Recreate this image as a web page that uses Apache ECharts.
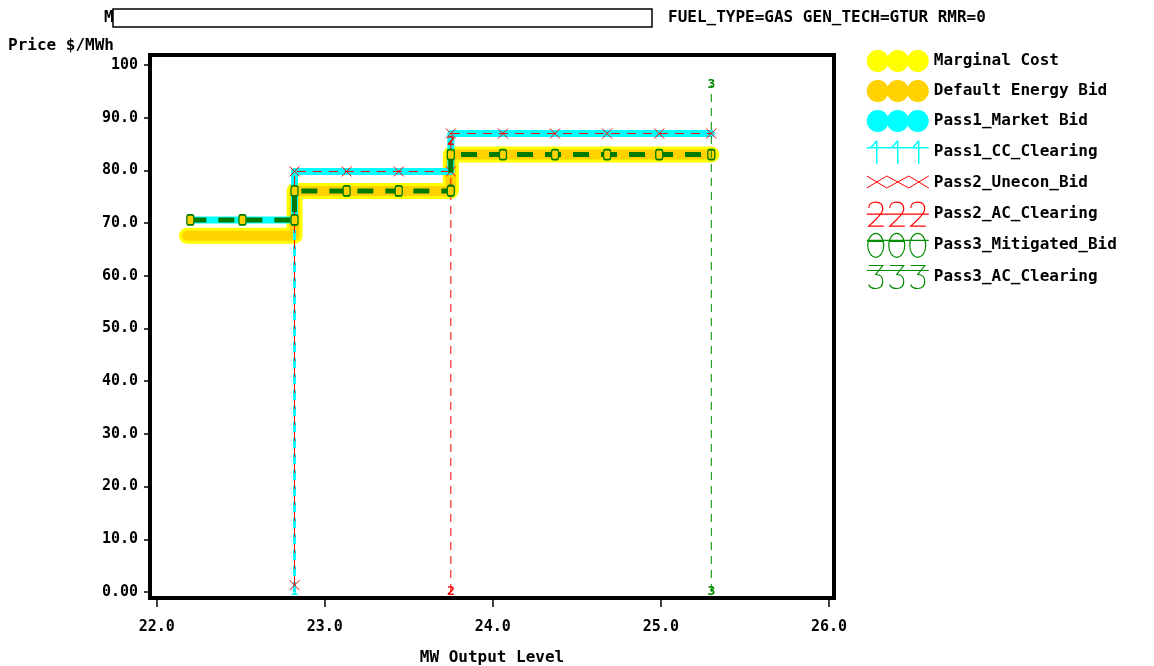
<!DOCTYPE html>
<html>
<head>
<meta charset="utf-8">
<style>
  html, body { margin: 0; padding: 0; background: #fff; }
  #chart { width: 1154px; height: 666px; }
</style>
<script src="https://cdn.jsdelivr.net/npm/echarts@6/dist/echarts.min.js"></script>
</head>
<body>
<div id="chart"></div>
<script>
// ---- data ----
const xTicks = [22, 23, 24, 25, 26]
const xTickLabels = ['22.0', '23.0', '24.0', '25.0', '26.0']
const yTicks = [0, 10, 20, 30, 40, 50, 60, 70, 80, 90, 100]
const yTickLabels = ['0.00', '10.0', '20.0', '30.0', '40.0', '50.0', '60.0', '70.0', '80.0', '90.0', '100']

// step curves (x, price)
const marginalX = [22.18, 22.82, 22.82, 23.75, 23.75, 25.30]
const marginalY = [67.6, 67.6, 76.1, 76.1, 83.0, 83.0]
const defaultX = [22.18, 22.82, 22.82, 23.75, 23.75, 25.30]
const defaultY = [67.6, 67.6, 76.1, 76.1, 83.0, 83.0]
const pass1BidX = [22.20, 22.82, 22.82, 23.75, 23.75, 25.30]
const pass1BidY = [70.6, 70.6, 79.8, 79.8, 87.0, 87.0]
const pass1ClearX = [22.82, 22.82]
const pass1ClearY = [0, 70.6]
const pass2BidX = [22.82, 22.82, 23.13, 23.44, 23.75, 23.75, 24.06, 24.37, 24.68, 24.99, 25.30]
const pass2BidY = [1.3, 79.8, 79.8, 79.8, 79.8, 87.0, 87.0, 87.0, 87.0, 87.0, 87.0]
const pass2ClearX = [23.75, 23.75]
const pass2ClearY = [0, 85.5]
const pass3BidX = [22.20, 22.51, 22.82, 22.82, 23.13, 23.44, 23.75, 23.75, 24.06, 24.37, 24.68, 24.99, 25.30]
const pass3BidY = [70.6, 70.6, 70.6, 76.1, 76.1, 76.1, 76.1, 83.0, 83.0, 83.0, 83.0, 83.0, 83.0]
const pass3ClearX = [25.30, 25.30]
const pass3ClearY = [0, 96.2]

const zip = (xs, ys) => xs.map((x, i) => [x, ys[i]])

const MONO = "'DejaVu Sans Mono', 'Liberation Mono', monospace"
const YELLOW = '#ffff00'
const GOLD = '#ffd200'
const CYAN = '#00ffff'
const RED = '#ff0000'
const DKGREEN = '#007a00'
const GREEN = '#008c00'

// legend icons (SAS style symbol strips), every path spans the same 62x24 box
const BOX = 'M0,0M62,24'
const circles3 = 'path://' + BOX + 'M0,12a10,10 0 1,0 22,0a10,10 0 1,0 -22,0M20,12a10,10 0 1,0 22,0a10,10 0 1,0 -22,0M40,12a10,10 0 1,0 22,0a10,10 0 1,0 -22,0'
const ones3 = 'path://' + BOX + 'M0,8L62,8M10,1L10,24M4,8L10,1M31,1L31,24M25,8L31,1M52,1L52,24M46,8L52,1'
const crosses3 = 'path://' + BOX + 'M0,5L20,17L42,5L62,17M0,17L20,5L42,17L62,5'
const twos3 = 'path://' + BOX + 'M2,6Q2,0 9,0Q16,0 16,7Q16,12 2,24L17,24M23,6Q23,0 30,0Q37,0 37,7Q37,12 23,24L38,24M44,6Q44,0 51,0Q58,0 58,7Q58,12 44,24L59,24M0,12L62,12'
const zeros3 = 'path://' + BOX + 'M1,12a8,12 0 1,0 16,0a8,12 0 1,0 -16,0M22,12a8,12 0 1,0 16,0a8,12 0 1,0 -16,0M43,12a8,12 0 1,0 16,0a8,12 0 1,0 -16,0M0,7L62,7M2,8L16,8M23,8L37,8'
const threes3 = 'path://' + BOX + 'M2,1L16,1L9,10Q16,10 16,17Q16,24 9,24Q3,24 2,20M23,1L37,1L30,10Q37,10 37,17Q37,24 30,24Q24,24 23,20M44,1L58,1L51,10Q58,10 58,17Q58,24 51,24Q45,24 44,20M0,6L62,6'

const strokeIcon = (c, w) => ({ color: 'rgba(0,0,0,0)', borderColor: c, borderWidth: w })

const digitLabel = (txt, color) => ({
    show: true,
    position: 'inside',
    formatter: txt,
    color: color,
    fontFamily: MONO,
    fontWeight: 'bold',
    fontSize: 13
})

const chart = echarts.init(document.getElementById('chart'))

const option = {
    backgroundColor: '#fff',
    animation: false,
    title: [
        {
            text: 'Price $/MWh',
            left: 8, top: 38, padding: 0,
            textStyle: { fontFamily: MONO, fontWeight: 'bold', fontSize: 16, color: '#000' }
        },
        {
            text: 'FUEL_TYPE=GAS GEN_TECH=GTUR RMR=0',
            left: 668, top: 10, padding: 0,
            textStyle: { fontFamily: MONO, fontWeight: 'bold', fontSize: 16, color: '#000' }
        },
        {
            text: 'M',
            left: 104, top: 10, padding: 0,
            textStyle: { fontFamily: MONO, fontWeight: 'bold', fontSize: 16, color: '#000' }
        }
    ],
    graphic: [
        {
            type: 'rect',
            shape: { x: 113, y: 9, width: 539, height: 18 },
            style: { fill: '#fff', stroke: '#000', lineWidth: 1.5 },
            z: 10
        }
    ],
    legend: {
        orient: 'vertical',
        left: 866, top: 49, padding: 0,
        itemWidth: 62, itemHeight: 24, itemGap: 6,
        selectedMode: false,
        textStyle: { fontFamily: MONO, fontWeight: 'bold', fontSize: 16, color: '#000' },
        data: [
            { name: 'Marginal Cost', icon: circles3, itemStyle: { color: YELLOW, borderWidth: 0 } },
            { name: 'Default Energy Bid', icon: circles3, itemStyle: { color: GOLD, borderWidth: 0 } },
            { name: 'Pass1_Market Bid', icon: circles3, itemStyle: { color: CYAN, borderWidth: 0 } },
            { name: 'Pass1_CC_Clearing', icon: ones3, itemStyle: strokeIcon(CYAN, 1.5) },
            { name: 'Pass2_Unecon_Bid', icon: crosses3, itemStyle: strokeIcon(RED, 1) },
            { name: 'Pass2_AC_Clearing', icon: twos3, itemStyle: strokeIcon(RED, 1.2) },
            { name: 'Pass3_Mitigated_Bid', icon: zeros3, itemStyle: strokeIcon(GREEN, 1.2) },
            { name: 'Pass3_AC_Clearing', icon: threes3, itemStyle: strokeIcon(GREEN, 1.2) }
        ]
    },
    grid: {
        left: 150, top: 55, width: 684, height: 543,
        outerBoundsMode: 'none',
        containLabel: false,
        show: true,
        borderColor: '#000',
        borderWidth: 4,
        backgroundColor: 'rgba(0,0,0,0)'
    },
    xAxis: {
        type: 'value',
        min: 21.96, max: 26.03,
        name: 'MW Output Level',
        nameLocation: 'middle',
        nameGap: 52,
        nameTextStyle: { fontFamily: MONO, fontWeight: 'bold', fontSize: 16, color: '#000' },
        axisLine: { onZero: false, lineStyle: { color: '#000', width: 4 } },
        axisTick: { length: 9, customValues: xTicks, lineStyle: { color: '#000', width: 1.5 } },
        axisLabel: {
            customValues: xTicks,
            margin: 22,
            formatter: v => xTickLabels[xTicks.indexOf(v)],
            fontFamily: MONO, fontWeight: 'bold', fontSize: 15, color: '#000'
        },
        splitLine: { show: false }
    },
    yAxis: {
        type: 'value',
        min: -1.14, max: 101.9,
        axisLine: { onZero: false, lineStyle: { color: '#000', width: 4 } },
        axisTick: { length: 6, customValues: yTicks, lineStyle: { color: '#000', width: 1.5 } },
        axisLabel: {
            customValues: yTicks,
            margin: 12,
            formatter: v => yTickLabels[yTicks.indexOf(v)],
            fontFamily: MONO, fontWeight: 'bold', fontSize: 15, color: '#000'
        },
        splitLine: { show: false }
    },
    series: [
        {
            name: 'Marginal Cost', type: 'line', symbol: 'none',
            data: zip(marginalX, marginalY),
            itemStyle: { color: YELLOW },
            lineStyle: { color: YELLOW, width: 16, cap: 'round', join: 'round' },
            z: 1
        },
        {
            name: 'Default Energy Bid', type: 'line', symbol: 'none',
            data: zip(defaultX, defaultY),
            itemStyle: { color: GOLD },
            lineStyle: { color: GOLD, width: 10, cap: 'round', join: 'round' },
            z: 2
        },
        {
            name: 'Pass1_Market Bid', type: 'line', symbol: 'none',
            data: zip(pass1BidX, pass1BidY),
            itemStyle: { color: CYAN },
            lineStyle: { color: CYAN, width: 7, cap: 'round', join: 'round' },
            z: 3
        },
        {
            name: 'Pass1_CC_Clearing', type: 'line',
            symbol: 'circle', symbolSize: 2,
            data: zip(pass1ClearX, pass1ClearY),
            itemStyle: { color: 'rgba(0,0,0,0)' },
            label: digitLabel('1', CYAN),
            lineStyle: { color: CYAN, width: 3, type: [10, 6] },
            z: 4
        },
        {
            name: 'Pass2_Unecon_Bid', type: 'line',
            symbol: 'path://M0,0L10,10M10,0L0,10', symbolSize: 10,
            data: zip(pass2BidX, pass2BidY),
            itemStyle: { color: 'rgba(0,0,0,0)', borderColor: RED, borderWidth: 1 },
            lineStyle: { color: RED, width: 1, type: [9, 7] },
            z: 5
        },
        {
            name: 'Pass2_AC_Clearing', type: 'line',
            symbol: 'circle', symbolSize: 2,
            data: zip(pass2ClearX, pass2ClearY),
            itemStyle: { color: 'rgba(0,0,0,0)' },
            label: digitLabel('2', RED),
            lineStyle: { color: RED, width: 1, type: [8, 6] },
            z: 6
        },
        {
            name: 'Pass3_Mitigated_Bid', type: 'line',
            symbol: 'roundRect', symbolSize: [7, 10],
            data: zip(pass3BidX, pass3BidY),
            itemStyle: { color: GOLD, borderColor: DKGREEN, borderWidth: 1.5 },
            lineStyle: { color: DKGREEN, width: 5, type: [16, 12] },
            z: 7
        },
        {
            name: 'Pass3_AC_Clearing', type: 'line',
            symbol: 'circle', symbolSize: 2,
            data: zip(pass3ClearX, pass3ClearY),
            itemStyle: { color: 'rgba(0,0,0,0)' },
            label: digitLabel('3', GREEN),
            lineStyle: { color: GREEN, width: 1, type: [8, 6] },
            z: 8
        }
    ]
}

chart.setOption(option)
</script>
</body>
</html>
